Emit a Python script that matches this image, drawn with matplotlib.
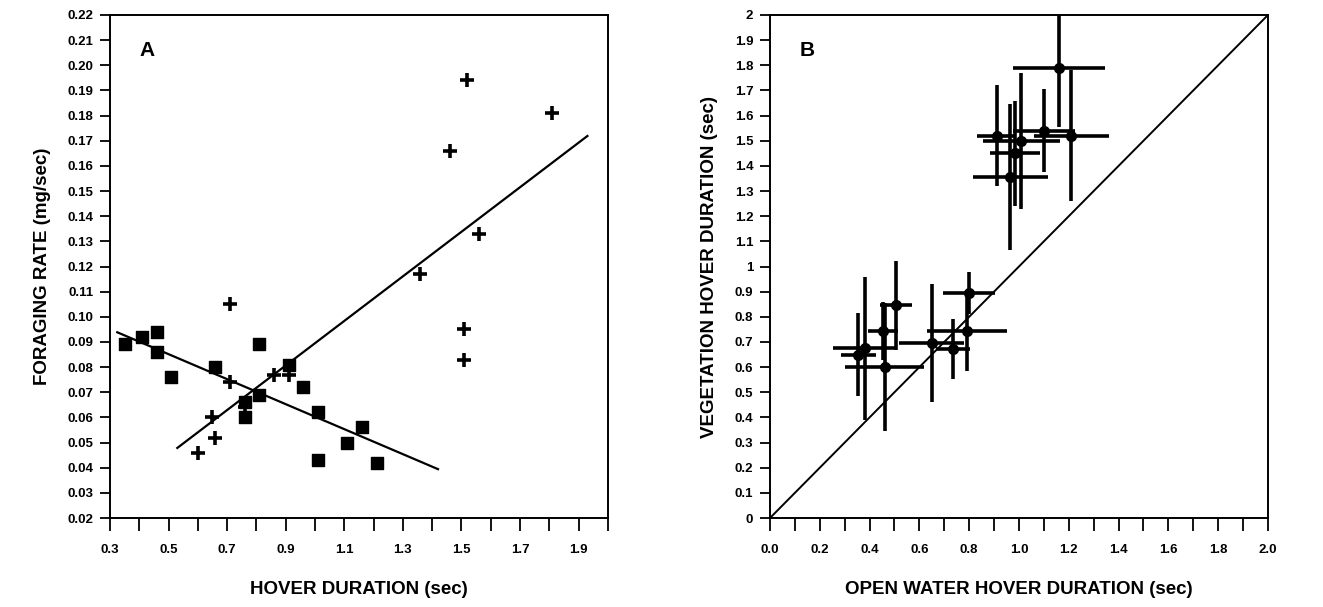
import matplotlib
matplotlib.use("Agg")
import matplotlib.pyplot as plt
import numpy as np
from matplotlib.ticker import FixedLocator
from matplotlib import font_manager

plt.rcParams['font.family'] = ['Liberation Sans', 'DejaVu Sans']
plt.rcParams['font.weight'] = 'bold'

# ---------------- Panel A data ----------------
sq_x = [0.35, 0.41, 0.46, 0.46, 0.51, 0.66, 0.81, 0.91, 0.76, 0.76, 0.81,
        0.96, 1.01, 1.01, 1.11, 1.16, 1.21]
sq_y = [0.089, 0.092, 0.094, 0.086, 0.076, 0.080, 0.089, 0.081, 0.066, 0.060,
        0.069, 0.072, 0.062, 0.043, 0.050, 0.056, 0.042]

pl_x = [0.71, 1.51, 1.51, 0.71, 0.86, 0.91, 0.65, 0.66, 0.60, 0.76,
        1.52, 1.81, 1.46, 1.56, 1.36]
pl_y = [0.105, 0.095, 0.083, 0.074, 0.077, 0.077, 0.060, 0.052, 0.046, 0.064,
        0.194, 0.181, 0.166, 0.133, 0.117]

# fitted lines (intercept, slope, x-range)
sq_fit = (0.1100, -0.0497, (0.325, 1.42))
pl_fit = (0.0009, 0.0886, (0.53, 1.93))

# ---------------- Panel B data ----------------
ow_x = [1.16, 0.91, 1.01, 1.10, 1.21, 0.985, 0.965,
        0.80, 0.505, 0.455, 0.46, 0.355, 0.38, 0.65, 0.735, 0.79]
veg_y = [1.79, 1.52, 1.50, 1.54, 1.52, 1.45, 1.355,
         0.895, 0.845, 0.745, 0.60, 0.65, 0.675, 0.695, 0.673, 0.745]
ow_err = [0.185, 0.08, 0.155, 0.125, 0.15, 0.10, 0.15,
          0.105, 0.065, 0.06, 0.16, 0.07, 0.125, 0.13, 0.07, 0.16]
veg_err = [0.235, 0.20, 0.27, 0.165, 0.26, 0.21, 0.29,
           0.085, 0.175, 0.115, 0.255, 0.165, 0.285, 0.235, 0.12, 0.16]

installed = {f.name for f in font_manager.fontManager.ttflist}
tick_family = ['Liberation Sans Narrow'] if 'Liberation Sans Narrow' in installed else ['Liberation Sans']
tick_size = 10.5 if tick_family[0] == 'Liberation Sans Narrow' else 9.5

fig = plt.figure(figsize=(13.23, 6.07), dpi=100)
axA = fig.add_axes([0.0831, 0.1466, 0.3764, 0.8287])
axB = fig.add_axes([0.582, 0.1466, 0.3764, 0.8287])

for ax in (axA, axB):
    for s in ax.spines.values():
        s.set_linewidth(1.4)
    ax.tick_params(direction='out', length=7, width=1.3, pad=5)
    ax.tick_params(axis='x', length=9, pad=10)


def style_ticks(ax):
    for lab in ax.get_xticklabels() + ax.get_yticklabels():
        lab.set_fontweight('bold')
        lab.set_family(tick_family)
        lab.set_fontsize(tick_size)


# ---- Panel A ----
axA.scatter(sq_x, sq_y, marker='s', s=78, color='black', zorder=3)
axA.plot(pl_x, pl_y, linestyle='none', marker='+', markersize=10,
         markeredgewidth=2.6, color='black', zorder=3)
for a, b, (x0, x1) in (sq_fit, pl_fit):
    xs = np.array([x0, x1])
    axA.plot(xs, a + b * xs, color='black', linewidth=1.6)
axA.set_xlim(0.3, 2.0)
axA.set_ylim(0.02, 0.22)
xt = np.round(np.arange(0.3, 2.001, 0.1), 2)
axA.xaxis.set_major_locator(FixedLocator(xt))
axA.set_xticklabels([f"{v:.1f}" if i % 2 == 0 else "" for i, v in enumerate(xt)])
yt = np.round(np.arange(0.02, 0.2201, 0.01), 2)
axA.yaxis.set_major_locator(FixedLocator(yt))
axA.set_yticklabels([f"{v:.2f}" for v in yt])
style_ticks(axA)
axA.set_xlabel("HOVER DURATION (sec)", fontsize=13.5, fontweight='bold', labelpad=18)
axA.set_ylabel("FORAGING RATE (mg/sec)", fontsize=13.5, fontweight='bold', labelpad=12)
axA.text(0.075, 0.93, "A", transform=axA.transAxes, fontsize=15,
         fontweight='bold', ha='center', va='center')

# ---- Panel B ----
axB.errorbar(ow_x, veg_y, xerr=ow_err, yerr=veg_err, fmt='o', color='black',
             markersize=7, elinewidth=2.6, capsize=0, zorder=3)
lim = np.array([0.0, 2.0])
axB.plot(lim, lim, color='black', linewidth=1.4)
axB.set_xlim(0, 2.0)
axB.set_ylim(0, 2.0)
xtB = np.round(np.arange(0, 2.001, 0.1), 2)
axB.xaxis.set_major_locator(FixedLocator(xtB))
axB.set_xticklabels([f"{v:.1f}" if i % 2 == 0 else "" for i, v in enumerate(xtB)])
ytB = np.round(np.arange(0, 2.001, 0.1), 2)
axB.yaxis.set_major_locator(FixedLocator(ytB))
axB.set_yticklabels([("%d" % v) if abs(v - round(v)) < 1e-9 else f"{v:.1f}" for v in ytB])
style_ticks(axB)
axB.set_xlabel("OPEN WATER HOVER DURATION (sec)", fontsize=13.5, fontweight='bold', labelpad=18)
axB.set_ylabel("VEGETATION HOVER DURATION (sec)", fontsize=13.5, fontweight='bold', labelpad=12)
axB.text(0.075, 0.93, "B", transform=axB.transAxes, fontsize=15,
         fontweight='bold', ha='center', va='center')

fig.savefig("out.png", dpi=100)
